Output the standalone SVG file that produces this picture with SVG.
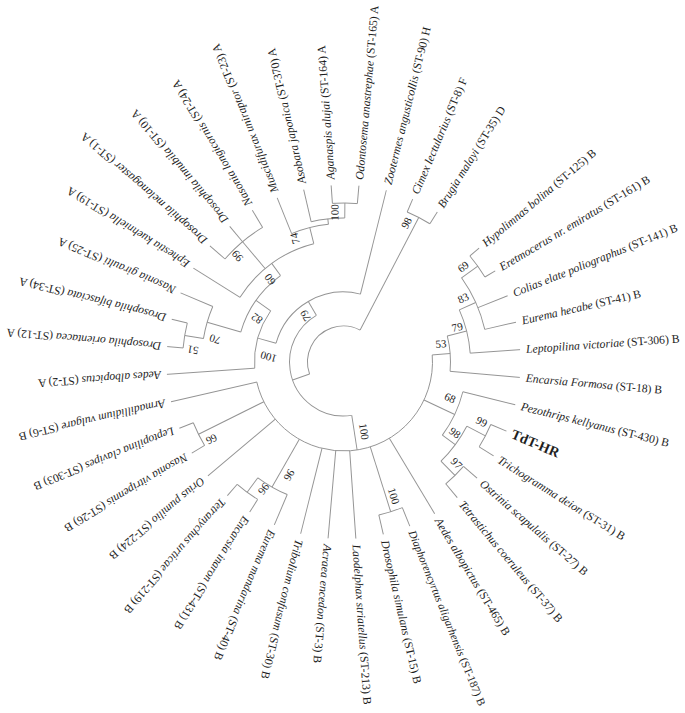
<svg xmlns="http://www.w3.org/2000/svg" width="685" height="713" viewBox="0 0 685 713">
<style>
.e{fill:none;stroke:#939393;stroke-width:0.95}
.t{font-family:"Liberation Serif","Times New Roman",serif;font-size:11.7px;fill:#1e1e1e}
.s{font-size:11.3px}
.i{font-style:italic}
.hr{font-weight:bold;font-size:14px}
.bs{font-family:"Liberation Serif","Times New Roman",serif;font-size:11px;fill:#1e1e1e;text-anchor:middle}
</style>
<rect width="685" height="713" fill="#ffffff"/>
<g transform="translate(343.5,362)">
<g id="connectors">
<circle class="e" r="36" pathLength="360" stroke-dasharray="137 360" transform="rotate(160.5)"/>
<circle class="e" r="54" pathLength="360" stroke-dasharray="158.6 360" transform="rotate(81.2)"/>
<circle class="e" r="163" pathLength="360" stroke-dasharray="9 360" transform="rotate(293)"/>
<circle class="e" r="89" pathLength="360" stroke-dasharray="171.55 360" transform="rotate(-4.55)"/>
<circle class="e" r="70" pathLength="360" stroke-dasharray="88.45 360" transform="rotate(195.55)"/>
<circle class="e" r="89" pathLength="360" stroke-dasharray="39.1 360" transform="rotate(176)"/>
<circle class="e" r="107" pathLength="360" stroke-dasharray="37.7 360" transform="rotate(196.25)"/>
<circle class="e" r="142" pathLength="360" stroke-dasharray="13.5 360" transform="rotate(189.5)"/>
<circle class="e" r="161" pathLength="360" stroke-dasharray="9 360" transform="rotate(185)"/>
<circle class="e" r="122" pathLength="360" stroke-dasharray="43.9 360" transform="rotate(212)"/>
<circle class="e" r="157" pathLength="360" stroke-dasharray="18 360" transform="rotate(221)"/>
<circle class="e" r="138.5" pathLength="360" stroke-dasharray="15.75 360" transform="rotate(248)"/>
<circle class="e" r="144" pathLength="360" stroke-dasharray="13.5 360" transform="rotate(257)"/>
<circle class="e" r="159" pathLength="360" stroke-dasharray="9 360" transform="rotate(266)"/>
<circle class="e" r="107" pathLength="360" stroke-dasharray="19.1 360" transform="rotate(-14.1)"/>
<circle class="e" r="127" pathLength="360" stroke-dasharray="20.25 360" transform="rotate(-24.25)"/>
<circle class="e" r="145" pathLength="360" stroke-dasharray="22.5 360" transform="rotate(-35.5)"/>
<circle class="e" r="165" pathLength="360" stroke-dasharray="9 360" transform="rotate(-40)"/>
<circle class="e" r="123" pathLength="360" stroke-dasharray="22.5 360" transform="rotate(14)"/>
<circle class="e" r="139" pathLength="360" stroke-dasharray="18 360" transform="rotate(27.5)"/>
<circle class="e" r="160" pathLength="360" stroke-dasharray="9 360" transform="rotate(23)"/>
<circle class="e" r="159" pathLength="360" stroke-dasharray="9 360" transform="rotate(41)"/>
<circle class="e" r="157" pathLength="360" stroke-dasharray="9 360" transform="rotate(68)"/>
<circle class="e" r="144" pathLength="360" stroke-dasharray="13.5 360" transform="rotate(113)"/>
<circle class="e" r="162" pathLength="360" stroke-dasharray="9 360" transform="rotate(122)"/>
<circle class="e" r="162" pathLength="360" stroke-dasharray="9 360" transform="rotate(149)"/>
<line class="e" x1="36" x2="54" transform="rotate(160.5)"/>
<line class="e" x1="36" x2="163" transform="rotate(297.5)"/>
<line class="e" x1="54" x2="89" transform="rotate(81.2)"/>
<line class="e" x1="54" x2="70" transform="rotate(239.8)"/>
<line class="e" x1="70" x2="89" transform="rotate(195.55)"/>
<line class="e" x1="89" x2="107" transform="rotate(215.1)"/>
<line class="e" x1="107" x2="142" transform="rotate(196.25)"/>
<line class="e" x1="142" x2="161" transform="rotate(189.5)"/>
<line class="e" x1="107" x2="122" transform="rotate(233.95)"/>
<line class="e" x1="122" x2="157" transform="rotate(230)"/>
<line class="e" x1="122" x2="138.5" transform="rotate(255.9)"/>
<line class="e" x1="138.5" x2="144" transform="rotate(263.75)"/>
<line class="e" x1="144" x2="159" transform="rotate(270.5)"/>
<line class="e" x1="89" x2="107" transform="rotate(-4.55)"/>
<line class="e" x1="107" x2="127" transform="rotate(-14.1)"/>
<line class="e" x1="127" x2="145" transform="rotate(-24.25)"/>
<line class="e" x1="145" x2="165" transform="rotate(-35.5)"/>
<line class="e" x1="89" x2="123" transform="rotate(25.25)"/>
<line class="e" x1="123" x2="139" transform="rotate(36.5)"/>
<line class="e" x1="139" x2="160" transform="rotate(27.5)"/>
<line class="e" x1="139" x2="159" transform="rotate(45.5)"/>
<line class="e" x1="89" x2="157" transform="rotate(72.5)"/>
<line class="e" x1="89" x2="144" transform="rotate(119.75)"/>
<line class="e" x1="144" x2="162" transform="rotate(126.5)"/>
<line class="e" x1="89" x2="162" transform="rotate(153.5)"/>
<line class="e" x1="165" x2="177" transform="rotate(-40)"/>
<line class="e" x1="165" x2="177" transform="rotate(-31)"/>
<line class="e" x1="145" x2="177" transform="rotate(-22)"/>
<line class="e" x1="145" x2="177" transform="rotate(-13)"/>
<line class="e" x1="127" x2="177" transform="rotate(-4)"/>
<line class="e" x1="107" x2="177" transform="rotate(5)"/>
<line class="e" x1="123" x2="177" transform="rotate(14)"/>
<line class="e" x1="160" x2="177" transform="rotate(23)"/>
<line class="e" x1="160" x2="177" transform="rotate(32)"/>
<line class="e" x1="159" x2="177" transform="rotate(41)"/>
<line class="e" x1="159" x2="177" transform="rotate(50)"/>
<line class="e" x1="89" x2="177" transform="rotate(59)"/>
<line class="e" x1="157" x2="177" transform="rotate(68)"/>
<line class="e" x1="157" x2="177" transform="rotate(77)"/>
<line class="e" x1="89" x2="177" transform="rotate(86)"/>
<line class="e" x1="89" x2="177" transform="rotate(95)"/>
<line class="e" x1="89" x2="177" transform="rotate(104)"/>
<line class="e" x1="144" x2="177" transform="rotate(113)"/>
<line class="e" x1="162" x2="177" transform="rotate(122)"/>
<line class="e" x1="162" x2="177" transform="rotate(131)"/>
<line class="e" x1="89" x2="177" transform="rotate(140)"/>
<line class="e" x1="162" x2="177" transform="rotate(149)"/>
<line class="e" x1="162" x2="177" transform="rotate(158)"/>
<line class="e" x1="89" x2="177" transform="rotate(167)"/>
<line class="e" x1="89" x2="177" transform="rotate(176)"/>
<line class="e" x1="161" x2="177" transform="rotate(185)"/>
<line class="e" x1="161" x2="177" transform="rotate(194)"/>
<line class="e" x1="142" x2="177" transform="rotate(203)"/>
<line class="e" x1="122" x2="177" transform="rotate(212)"/>
<line class="e" x1="157" x2="177" transform="rotate(221)"/>
<line class="e" x1="157" x2="177" transform="rotate(230)"/>
<line class="e" x1="157" x2="177" transform="rotate(239)"/>
<line class="e" x1="138.5" x2="177" transform="rotate(248)"/>
<line class="e" x1="144" x2="177" transform="rotate(257)"/>
<line class="e" x1="159" x2="177" transform="rotate(266)"/>
<line class="e" x1="159" x2="177" transform="rotate(275)"/>
<line class="e" x1="70" x2="177" transform="rotate(284)"/>
<line class="e" x1="163" x2="177" transform="rotate(293)"/>
<line class="e" x1="163" x2="177" transform="rotate(302)"/>
</g>
<g id="leaf-hypolimnas"><text class="t" x="183" dy="0.33em" transform="rotate(-40)"><tspan class="i">Hypolimnas bolina</tspan> (ST-125) B</text></g>
<g id="leaf-eretmocerus"><text class="t" x="183" dy="0.33em" transform="rotate(-31)"><tspan class="i">Eretmocerus nr. emiratus</tspan> (ST-161) B</text></g>
<g id="leaf-colias"><text class="t" x="183" dy="0.33em" transform="rotate(-22)"><tspan class="i">Colias elate poliographus</tspan> (ST-141) B</text></g>
<g id="leaf-eurema-hecabe"><text class="t" x="183" dy="0.33em" transform="rotate(-13)"><tspan class="i">Eurema hecabe</tspan> (ST-41) B</text></g>
<g id="leaf-leptopilina-victoriae"><text class="t" x="183" dy="0.33em" transform="rotate(-4)"><tspan class="i">Leptopilina victoriae</tspan> (ST-306) B</text></g>
<g id="leaf-encarsia-formosa"><text class="t" x="183" dy="0.33em" transform="rotate(5)"><tspan class="i">Encarsia Formosa</tspan> (ST-18) B</text></g>
<g id="leaf-pezothrips"><text class="t" x="183" dy="0.33em" transform="rotate(14)"><tspan class="i">Pezothrips kellyanus</tspan> (ST-430) B</text></g>
<g id="leaf-tdt-hr"><text class="t hr" x="183" dy="0.33em" transform="rotate(23)">TdT-HR</text></g>
<g id="leaf-trichogramma"><text class="t" x="183" dy="0.33em" transform="rotate(32)"><tspan class="i">Trichogramma deion</tspan> (ST-31) B</text></g>
<g id="leaf-ostrinia"><text class="t" x="183" dy="0.33em" transform="rotate(41)"><tspan class="i">Ostrinia scapulalis</tspan> (ST-27) B</text></g>
<g id="leaf-tetrastichus"><text class="t" x="183" dy="0.33em" transform="rotate(50)"><tspan class="i">Tetrastichus coeruleus</tspan> (ST-37) B</text></g>
<g id="leaf-aedes-465"><text class="t" x="183" dy="0.33em" transform="rotate(59)"><tspan class="i">Aedes albopictus</tspan> (ST-465) B</text></g>
<g id="leaf-diaphorencyrtus"><text class="t s" x="182" dy="0.33em" transform="rotate(68)"><tspan class="i">Diaphorencyrtus aligarhensis</tspan> (ST-187) B</text></g>
<g id="leaf-drosophila-simulans"><text class="t" x="183" dy="0.33em" transform="rotate(77)"><tspan class="i">Drosophila simulans</tspan> (ST-15) B</text></g>
<g id="leaf-laodelphax"><text class="t" x="183" dy="0.33em" transform="rotate(86)"><tspan class="i">Laodelphax striatellus</tspan> (ST-213) B</text></g>
<g id="leaf-acraea"><text class="t" x="183" dy="0.33em" transform="rotate(95)"><tspan class="i">Acraea encedon</tspan> (ST-3) B</text></g>
<g id="leaf-tribolium"><text class="t" x="183" dy="0.33em" transform="rotate(104)"><tspan class="i">Tribolium confusum</tspan> (ST-30) B</text></g>
<g id="leaf-eurema-mandarina"><text class="t" x="183" dy="0.33em" transform="rotate(113)"><tspan class="i">Eurema mandarina</tspan> (ST-40) B</text></g>
<g id="leaf-encarsia-inaron"><text class="t" x="183" dy="0.33em" transform="rotate(122)"><tspan class="i">Encarsia inaron</tspan> (ST-431) B</text></g>
<g id="leaf-tetranychus"><text class="t" x="183" dy="0.33em" transform="rotate(131)"><tspan class="i">Tetranychus urticae</tspan> (ST-219) B</text></g>
<g id="leaf-orius"><text class="t" x="183" dy="0.33em" transform="rotate(140)"><tspan class="i">Orius pumilio</tspan> (ST-224) B</text></g>
<g id="leaf-nasonia-vitripennis"><text class="t" x="183" dy="0.33em" transform="rotate(149)"><tspan class="i">Nasonia vitripennis</tspan> (ST-26) B</text></g>
<g id="leaf-leptopilina-clavipes"><text class="t" x="183" dy="0.33em" transform="rotate(158)"><tspan class="i">Leptopilina clavipes</tspan> (ST-303) B</text></g>
<g id="leaf-armadillidium"><text class="t" x="183" dy="0.33em" transform="rotate(167)"><tspan class="i">Armadillidium vulgare</tspan> (ST-6) B</text></g>
<g id="leaf-aedes-2"><text class="t" x="183" dy="0.33em" transform="rotate(176)"><tspan class="i">Aedes albopictus</tspan> (ST-2) A</text></g>
<g id="leaf-drosophila-orientacea"><text class="t" x="183" dy="0.33em" transform="rotate(185)"><tspan class="i">Drosophila orientacea</tspan> (ST-12) A</text></g>
<g id="leaf-drosophila-bifasciata"><text class="t" x="183" dy="0.33em" transform="rotate(194)"><tspan class="i">Drosophila bifasciata</tspan> (ST-34) A</text></g>
<g id="leaf-nasonia-giraulti"><text class="t" x="183" dy="0.33em" transform="rotate(203)"><tspan class="i">Nasonia giraulti</tspan> (ST-25) A</text></g>
<g id="leaf-ephestia"><text class="t" x="183" dy="0.33em" transform="rotate(212)"><tspan class="i">Ephestia kuehniella</tspan> (ST-19) A</text></g>
<g id="leaf-drosophila-melanogaster"><text class="t" x="183" dy="0.33em" transform="rotate(221)"><tspan class="i">Drosophila melanogaster</tspan> (ST-1) A</text></g>
<g id="leaf-drosophila-innubila"><text class="t" x="183" dy="0.33em" transform="rotate(230)"><tspan class="i">Drosophila innubila</tspan> (ST-10) A</text></g>
<g id="leaf-nasonia-longicornis"><text class="t" x="183" dy="0.33em" transform="rotate(239)"><tspan class="i">Nasonia longicornis</tspan> (ST-24) A</text></g>
<g id="leaf-muscidifurax"><text class="t" x="183" dy="0.33em" transform="rotate(248)"><tspan class="i">Muscidifurax uniraptor</tspan> (ST-23) A</text></g>
<g id="leaf-asobara"><text class="t" x="183" dy="0.33em" transform="rotate(257)"><tspan class="i">Asobara japonica</tspan> (ST-370) A</text></g>
<g id="leaf-aganaspis"><text class="t" x="183" dy="0.33em" transform="rotate(266)"><tspan class="i">Aganaspis alujai</tspan> (ST-164) A</text></g>
<g id="leaf-odontosema"><text class="t" x="183" dy="0.33em" transform="rotate(275)"><tspan class="i">Odontosema anastrephae</tspan> (ST-165) A</text></g>
<g id="leaf-zootermes"><text class="t" x="183" dy="0.33em" transform="rotate(284)"><tspan class="i">Zootermes angusticollis</tspan> (ST-90) H</text></g>
<g id="leaf-cimex"><text class="t" x="183" dy="0.33em" transform="rotate(293)"><tspan class="i">Cimex lectularius</tspan> (ST-8) F</text></g>
<g id="leaf-brugia"><text class="t" x="183" dy="0.33em" transform="rotate(302)"><tspan class="i">Brugia malayi</tspan> (ST-35) D</text></g>
<g id="bootstrap">
<text class="bs" dy="0.33em" transform="rotate(184) translate(75,0) rotate(11.5)">100</text>
<text class="bs" dy="0.33em" transform="rotate(230.7) translate(60,0) rotate(9)">79</text>
<text class="bs" dy="0.33em" transform="rotate(206.7) translate(97,0) rotate(8.4)">82</text>
<text class="bs" dy="0.33em" transform="rotate(190.1) translate(130.5,0) rotate(6.15)">70</text>
<text class="bs" dy="0.33em" transform="rotate(184.6) translate(151,0) rotate(4.9)">51</text>
<text class="bs" dy="0.33em" transform="rotate(228.3) translate(110.5,0) rotate(5.65)">60</text>
<text class="bs" dy="0.33em" transform="rotate(225) translate(150,0) rotate(5)">99</text>
<text class="bs" dy="0.33em" transform="rotate(248.6) translate(132.7,0) rotate(7.3)">74</text>
<text class="bs" dy="0.33em" transform="rotate(266.7) translate(149.7,0) rotate(3.8)">100</text>
<text class="bs" dy="0.33em" transform="rotate(294.4) translate(152.6,0) rotate(3.1)">98</text>
<text class="bs" dy="0.33em" transform="rotate(-38.5) translate(153,0) rotate(3)">69</text>
<text class="bs" dy="0.33em" transform="rotate(-28) translate(135.7,0) rotate(3.75)">83</text>
<text class="bs" dy="0.33em" transform="rotate(-17) translate(119,0) rotate(2.9)">79</text>
<text class="bs" dy="0.33em" transform="rotate(-10.5) translate(99,0) rotate(6)">53</text>
<text class="bs" dy="0.33em" transform="rotate(18.7) translate(112.4,0) rotate(6.55)">68</text>
<text class="bs" dy="0.33em" transform="rotate(32.5) translate(132,0) rotate(4)">98</text>
<text class="bs" dy="0.33em" transform="rotate(23.4) translate(150.5,0) rotate(4.1)">99</text>
<text class="bs" dy="0.33em" transform="rotate(41.9) translate(151.9,0) rotate(3.6)">97</text>
<text class="bs" dy="0.33em" transform="rotate(69.5) translate(143,0) rotate(3)">100</text>
<text class="bs" dy="0.33em" transform="rotate(115.7) translate(125.5,0) rotate(4.05)">96</text>
<text class="bs" dy="0.33em" transform="rotate(122.2) translate(150,0) rotate(4.3)">96</text>
<text class="bs" dy="0.33em" transform="rotate(149.7) translate(152.8,0) rotate(3.8)">66</text>
<text class="bs" dy="0.33em" transform="rotate(73.6) translate(72.5,0) rotate(7.6)">100</text>
</g>
</g>
</svg>
